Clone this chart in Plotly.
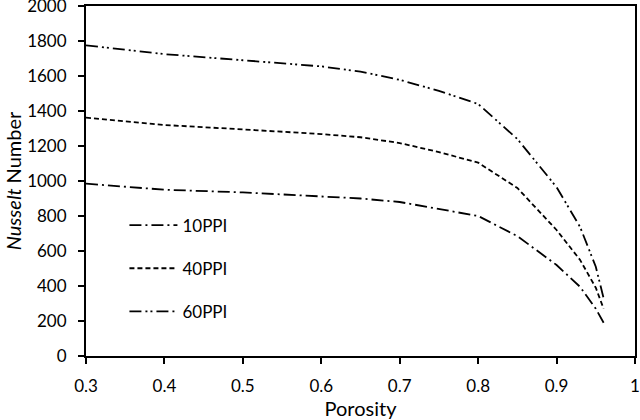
import plotly.graph_objects as go

porosity = [0.3, 0.4, 0.5, 0.6, 0.65, 0.7, 0.75, 0.8, 0.85, 0.9, 0.93, 0.95, 0.96]
nu_10ppi = [985, 950, 935, 914, 900, 880, 840, 800, 685, 520, 395, 270, 190]
nu_40ppi = [1362, 1320, 1295, 1268, 1250, 1217, 1165, 1105, 960, 720, 549, 390, 270]
nu_60ppi = [1775, 1725, 1690, 1655, 1625, 1578, 1515, 1440, 1240, 965, 737, 510, 330]

x_ticks = [0.3, 0.4, 0.5, 0.6, 0.7, 0.8, 0.9, 1.0]
x_labels = ['0.3', '0.4', '0.5', '0.6', '0.7', '0.8', '0.9', '1']

font = dict(family='Lato', size=17, color='black')

fig = go.Figure()
fig.add_trace(go.Scatter(x=porosity, y=nu_10ppi, mode='lines', name='10PPI',
                         legendgroup='a',
                         line=dict(color='black', width=1.8, dash='12px,4px,2px,4px')))
fig.add_trace(go.Scatter(x=porosity, y=nu_40ppi, mode='lines', name='40PPI',
                         legendgroup='b',
                         line=dict(color='black', width=1.8, dash='5px,3px')))
fig.add_trace(go.Scatter(x=porosity, y=nu_60ppi, mode='lines', name='60PPI',
                         legendgroup='c',
                         line=dict(color='black', width=1.8, dash='12px,4px,2px,3px,2px,4px')))

fig.update_layout(width=640, height=420, margin=dict(l=86, r=5, t=6, b=64),
                  plot_bgcolor='white', paper_bgcolor='white', font=font,
                  legend=dict(x=0.07, y=0.424, xanchor='left', yanchor='top',
                              bgcolor='rgba(0,0,0,0)', tracegroupgap=18,
                              itemwidth=48, traceorder='grouped', font=font))

fig.update_xaxes(range=[0.3, 1.0], tickvals=x_ticks, ticktext=x_labels,
                 automargin=False, ticklabeloverflow='allow', ticklabelstandoff=8,
                 showgrid=False, zeroline=False, showline=True, linecolor='black',
                 linewidth=2, mirror=True, ticks='outside', ticklen=6, tickwidth=2,
                 tickcolor='black', title=dict(text='Porosity', standoff=3))
fig.update_yaxes(range=[0, 2000], dtick=200, showgrid=False, zeroline=False,
                 automargin=False, ticklabeloverflow='allow', ticklabelstandoff=8,
                 showline=True, linecolor='black', linewidth=2, mirror=True,
                 ticks='outside', ticklen=6, tickwidth=2, tickcolor='black',
                 title=dict(text='<i>Nusselt</i> Number', standoff=0))

# drop the browser's default body margin so the figure fills the window
fig.write_html("out.html", config={'displayModeBar': False},
               post_script="document.body.style.margin='0';")
